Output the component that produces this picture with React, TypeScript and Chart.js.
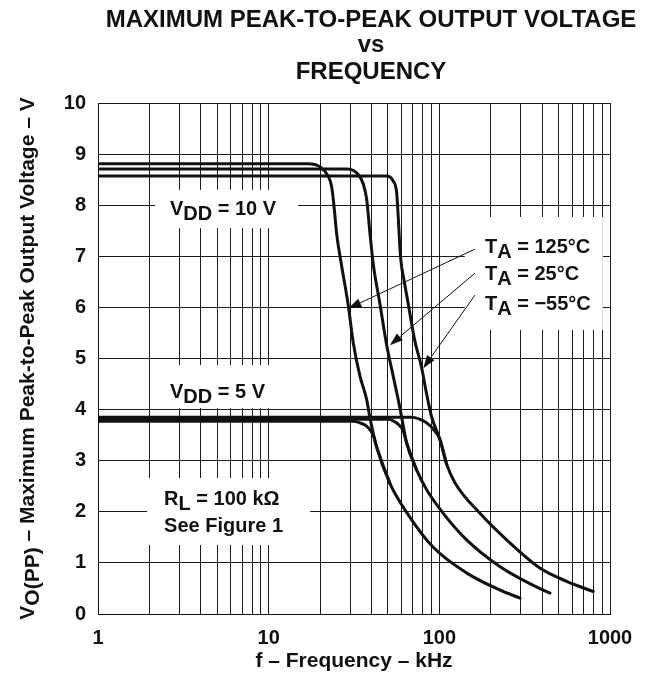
import React, { useEffect, useRef } from "react";
import { Chart, registerables } from "chart.js";

Chart.register(...registerables);

// ---------- data ----------
const FREQ_GRID = [
  1, 2, 3, 4, 5, 6, 7, 8, 9,
  10, 20, 30, 40, 50, 60, 70, 80, 90,
  100, 200, 300, 400, 500, 600, 700, 800, 900,
  1000,
];
const FREQ_LABELS = [1, 10, 100, 1000];
const VOLT_TICKS = [0, 1, 2, 3, 4, 5, 6, 7, 8, 9, 10];

// VDD = 10 V
const F_125_10V = [1, 17, 20.0, 22.3, 23.4, 24.2, 25.0, 26.5, 29.3, 31.3, 34.3, 37.5, 39.2, 42.9, 51.4, 64.6, 91.8, 145, 226, 297];
const V_125_10V = [8.81, 8.81, 8.75, 8.57, 8.36, 7.95, 7.45, 6.9, 6.03, 5.31, 4.65, 4.2, 3.84, 3.27, 2.55, 1.98, 1.31, 0.8, 0.47, 0.31];

const F_25_10V = [1, 29, 33.5, 35.8, 37.5, 39.2, 41.0, 44.9, 49.1, 53.7, 57.4, 60.1, 64.3, 73.6, 84.3, 105.4, 144.5, 226, 355, 445];
const V_25_10V = [8.71, 8.71, 8.6, 8.42, 8.12, 7.46, 6.85, 6.06, 5.27, 4.65, 4.2, 3.86, 3.35, 2.82, 2.43, 1.97, 1.45, 0.93, 0.56, 0.41];

const F_M55_10V = [1, 49, 53.7, 56.2, 57.4, 58.8, 60.1, 61.5, 65.8, 71.9, 78.8, 84.3, 90.1, 100.9, 110.4, 123.4, 173, 248, 388, 557, 798];
const V_M55_10V = [8.57, 8.57, 8.47, 8.25, 7.79, 7.14, 6.8, 6.61, 6.06, 5.34, 4.82, 4.3, 3.86, 3.41, 2.93, 2.57, 1.97, 1.45, 0.9, 0.64, 0.44];

// VDD = 5 V
const F_125_5V = [1, 31, 34.3, 38, 41, 42.9, 51.4];
const V_125_5V = [3.77, 3.77, 3.74, 3.66, 3.5, 3.27, 2.55];

const F_25_5V = [1, 50, 53.7, 58, 61.5, 64.3, 73.6];
const V_25_5V = [3.81, 3.81, 3.78, 3.7, 3.58, 3.35, 2.82];

const F_M55_5V = [1, 68, 76, 84.3, 92, 100.9, 110.4];
const V_M55_5V = [3.85, 3.85, 3.82, 3.74, 3.62, 3.41, 2.93];

const SERIES = [
  { f: F_125_10V, v: V_125_10V },
  { f: F_25_10V, v: V_25_10V },
  { f: F_M55_10V, v: V_M55_10V },
  { f: F_125_5V, v: V_125_5V },
  { f: F_25_5V, v: V_25_5V },
  { f: F_M55_5V, v: V_M55_5V },
];

const TITLE_LINES = ["MAXIMUM PEAK-TO-PEAK OUTPUT VOLTAGE", "vs", "FREQUENCY"];
const X_TITLE = "f \u2013 Frequency \u2013 kHz";

const FONT = '"Liberation Sans", Arial, Helvetica, sans-serif';
const INK = "#111";

type Part = { t: string; sub?: boolean };

function richWidth(ctx: CanvasRenderingContext2D, parts: Part[], size: number) {
  ctx.font = `bold ${size}px ${FONT}`;
  let w = 0;
  for (const p of parts) w += ctx.measureText(p.t).width;
  return w;
}

function drawRich(ctx: CanvasRenderingContext2D, parts: Part[], x: number, y: number, size: number, drop: number) {
  ctx.font = `bold ${size}px ${FONT}`;
  ctx.textBaseline = "alphabetic";
  ctx.textAlign = "left";
  let cx = x;
  for (const p of parts) {
    ctx.fillText(p.t, cx, p.sub ? y + drop : y);
    cx += ctx.measureText(p.t).width;
  }
}

// annotation boxes in data units: [f1, f2, v1, v2]
const BOXES = [
  [2.16, 14.85, 8.3, 7.55],
  [2.16, 13.3, 4.87, 4.03],
  [1.94, 17.5, 2.66, 1.35],
  [141, 908, 7.77, 5.56],
];

const annotationPlugin = {
  id: "annot",
  beforeDatasetsDraw(chart: any) {
    const ctx = chart.ctx as CanvasRenderingContext2D;
    const xs = chart.scales.x;
    const ys = chart.scales.y;
    ctx.save();
    ctx.fillStyle = "#fff";
    for (const [f1, f2, v1, v2] of BOXES) {
      const x1 = xs.getPixelForValue(f1);
      const x2 = xs.getPixelForValue(f2);
      const y1 = ys.getPixelForValue(v1);
      const y2 = ys.getPixelForValue(v2);
      ctx.fillRect(x1, y1, x2 - x1, y2 - y1);
    }
    ctx.restore();
  },
  afterDatasetsDraw(chart: any) {
    const ctx = chart.ctx as CanvasRenderingContext2D;
    const xs = chart.scales.x;
    const ys = chart.scales.y;
    const px = (f: number) => xs.getPixelForValue(f);
    const py = (v: number) => ys.getPixelForValue(v);
    ctx.save();
    ctx.fillStyle = INK;
    const size = 20;
    drawRich(ctx, [{ t: "V" }, { t: "DD", sub: true }, { t: " = 10 V" }], px(2.64), py(7.81), size, 5);
    drawRich(ctx, [{ t: "V" }, { t: "DD", sub: true }, { t: " = 5 V" }], px(2.64), py(4.23), size, 5);
    drawRich(ctx, [{ t: "R" }, { t: "L", sub: true }, { t: " = 100 k\u03a9" }], px(2.44), py(2.13), size, 5);
    drawRich(ctx, [{ t: "See Figure 1" }], px(2.44), py(1.6), size, 5);
    drawRich(ctx, [{ t: "T" }, { t: "A", sub: true }, { t: " = 125\u00b0C" }], px(185), py(7.06), size, 5);
    drawRich(ctx, [{ t: "T" }, { t: "A", sub: true }, { t: " = 25\u00b0C" }], px(185), py(6.54), size, 5);
    drawRich(ctx, [{ t: "T" }, { t: "A", sub: true }, { t: " = \u221255\u00b0C" }], px(185), py(5.95), size, 5);

    // leader lines with arrowheads
    const leaders = [
      [161.7, 7.14, 29.3, 5.98],
      [161.7, 6.67, 51.3, 5.26],
      [161.7, 6.24, 80.5, 4.81],
    ];
    ctx.strokeStyle = INK;
    ctx.lineWidth = 1;
    for (const [f1, v1, f2, v2] of leaders) {
      const x1 = px(f1), y1 = py(v1), x2 = px(f2), y2 = py(v2);
      const ang = Math.atan2(y2 - y1, x2 - x1);
      const L = 13, W = 4.5;
      const bx = x2 - L * Math.cos(ang), by = y2 - L * Math.sin(ang);
      ctx.beginPath();
      ctx.moveTo(x1, y1);
      ctx.lineTo(bx, by);
      ctx.stroke();
      ctx.beginPath();
      ctx.moveTo(x2, y2);
      ctx.lineTo(bx + W * Math.sin(ang), by - W * Math.cos(ang));
      ctx.lineTo(bx - W * Math.sin(ang), by + W * Math.cos(ang));
      ctx.closePath();
      ctx.fill();
    }
    ctx.restore();
  },
  afterDraw(chart: any) {
    const ctx = chart.ctx as CanvasRenderingContext2D;
    const ca = chart.chartArea;
    ctx.save();
    ctx.fillStyle = INK;
    // title
    ctx.font = `bold 24px ${FONT}`;
    ctx.textAlign = "center";
    ctx.textBaseline = "alphabetic";
    const tx = 371;
    ctx.fillText(TITLE_LINES[0], tx, 27);
    ctx.fillText(TITLE_LINES[1], tx, 52);
    ctx.fillText(TITLE_LINES[2], tx, 79);
    // x title
    ctx.font = `bold 21px ${FONT}`;
    ctx.fillText(X_TITLE, (ca.left + ca.right) / 2, 667);
    // y title (rotated)
    const parts: Part[] = [
      { t: "V" },
      { t: "O(PP)", sub: true },
      { t: " \u2013 Maximum Peak-to-Peak Output Voltage \u2013 V" },
    ];
    const w = richWidth(ctx, parts, 21);
    ctx.translate(34, (ca.top + ca.bottom) / 2);
    ctx.rotate(-Math.PI / 2);
    drawRich(ctx, parts, -w / 2, 0, 21, 5);
    ctx.restore();
  },
};

export default function App() {
  const ref = useRef<HTMLCanvasElement | null>(null);
  useEffect(() => {
    if (!ref.current) return;
    const datasets = SERIES.map((s) => ({
      data: s.f.map((f, i) => ({ x: f, y: s.v[i] })),
      borderColor: INK,
      borderWidth: 3,
      pointRadius: 0,
      fill: false,
      cubicInterpolationMode: "monotone" as const,
      borderJoinStyle: "round" as const,
      borderCapStyle: "round" as const,
    }));
    const chart = new Chart(ref.current, {
      type: "line",
      data: { datasets },
      options: {
        responsive: false,
        animation: false,
        devicePixelRatio: 1,
        layout: { padding: { left: 0, top: 103, right: 35, bottom: 0 } },
        plugins: {
          legend: { display: false },
          tooltip: { enabled: false },
          title: { display: false },
        },
        scales: {
          x: {
            type: "logarithmic",
            min: 1,
            max: 1000,
            afterBuildTicks: (s: any) => {
              s.ticks = FREQ_GRID.map((v) => ({ value: v }));
            },
            afterFit: (s: any) => {
              s.height = 65;
            },
            ticks: {
              autoSkip: false,
              maxRotation: 0,
              color: INK,
              padding: 12,
              font: { family: FONT, size: 20, weight: "bold" },
              callback: (v: any) => (FREQ_LABELS.includes(Number(v)) ? String(v) : ""),
            },
            grid: { color: "#1a1a1a", lineWidth: 1, drawTicks: false },
            border: { color: INK, width: 1 },
          },
          y: {
            min: 0,
            max: 10,
            afterBuildTicks: (s: any) => {
              s.ticks = VOLT_TICKS.map((v) => ({ value: v }));
            },
            afterFit: (s: any) => {
              s.width = 98;
            },
            ticks: {
              color: INK,
              padding: 12,
              font: { family: FONT, size: 20, weight: "bold" },
              callback: (v: any) => String(v),
            },
            grid: { color: "#1a1a1a", lineWidth: 1, drawTicks: false },
            border: { color: INK, width: 1 },
          },
        },
      } as any,
      plugins: [annotationPlugin],
    });
    return () => chart.destroy();
  }, []);
  return (
    <div style={{ position: "fixed", left: 0, top: 0, width: 645, height: 679, background: "#fff" }}>
      <canvas ref={ref} width={645} height={679} style={{ width: 645, height: 679, display: "block" }} />
    </div>
  );
}
